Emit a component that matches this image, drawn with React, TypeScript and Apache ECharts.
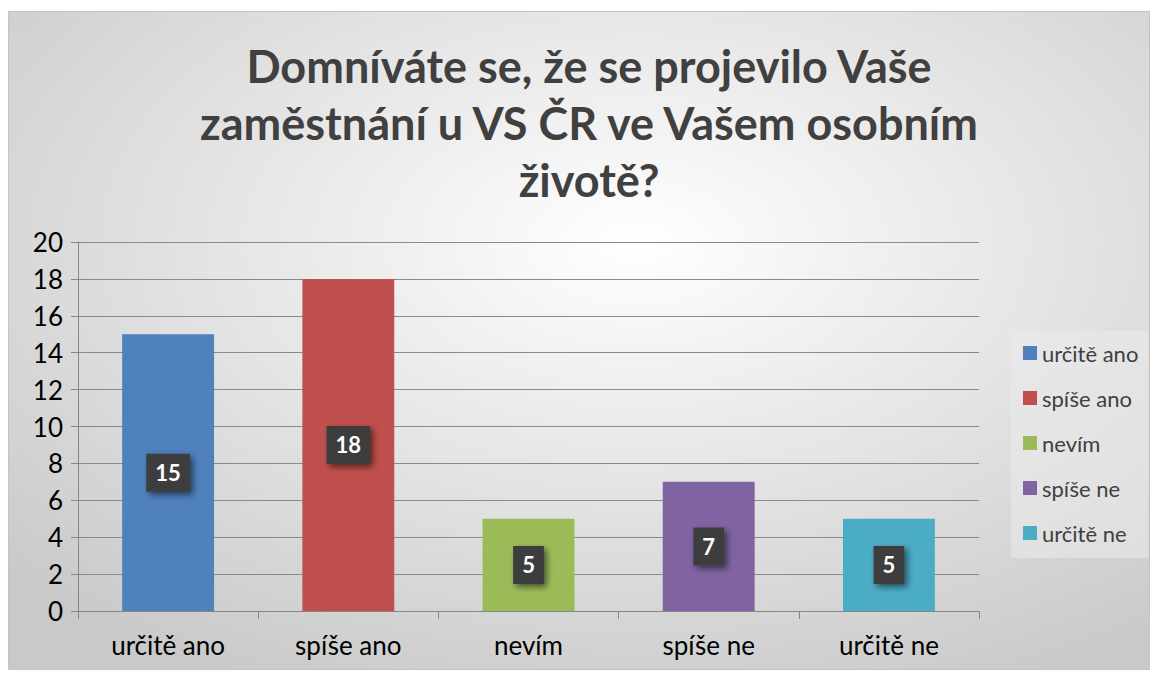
import React, { useEffect, useRef } from "react";
import * as echarts from "echarts";

const categories = ["určitě ano", "spíše ano", "nevím", "spíše ne", "určitě ne"];
const values = [15, 18, 5, 7, 5];
const colors = ["#4f81bd", "#c0504d", "#9bbb59", "#8064a2", "#4bacc6"];
const yTicks = { min: 0, max: 20, interval: 2 };
const titleText = "Domníváte se, že se projevilo Vaše\nzaměstnání u VS ČR ve Vašem osobním\nživotě?";

export default function App() {
  const ref = useRef<HTMLDivElement>(null);
  useEffect(() => {
    if (!ref.current) return;
    const chart = echarts.init(ref.current, null, { renderer: "svg" });
    const series = categories.map((name, i) => ({
      name,
      type: "bar",
      stack: "all",
      barWidth: "51%",
      data: categories.map((_, j) => (j === i ? values[i] : "-")),
      itemStyle: { color: colors[i] },
      label: {
        show: true,
        position: "inside",
        formatter: "{c}",
        color: "#ffffff",
        fontFamily: "Lato",
        fontWeight: "bold",
        fontSize: 22,
        backgroundColor: "#3c3c3c",
        padding: [9, 9, 7, 9],
        shadowColor: "rgba(0,0,0,0.55)",
        shadowBlur: 6,
        shadowOffsetX: 3,
        shadowOffsetY: 3,
      },
    }));
    chart.setOption({
      animation: false,
      backgroundColor: new echarts.graphic.RadialGradient(0.55, 0.35, 0.75, [
        { offset: 0, color: "#ffffff" },
        { offset: 1, color: "#c9c9c9" },
      ]),
      textStyle: { fontFamily: "Lato" },
      title: {
        text: titleText,
        left: 580,
        textAlign: "center",
        top: 25,
        padding: 0,
        textStyle: {
          fontFamily: "Lato",
          fontWeight: "bold",
          fontSize: 45,
          lineHeight: 57,
          color: "#404040",
        },
      },
      legend: {
        orient: "vertical",
        left: 1002,
        top: 319,
        icon: "rect",
        itemWidth: 14,
        itemHeight: 14,
        itemGap: 23,
        padding: [11, 10, 14, 12],
        backgroundColor: "rgba(235,235,235,0.55)",
        textStyle: { fontFamily: "Lato", fontSize: 22, color: "#404040" },
        data: categories,
      },
      grid: { left: 69, right: 170, top: 230, bottom: 58, containLabel: false },
      xAxis: {
        type: "category",
        data: categories,
        axisLine: { lineStyle: { color: "#868686", width: 1 } },
        axisTick: { show: true, alignWithLabel: false, length: 8, lineStyle: { color: "#868686" } },
        axisLabel: { color: "#000000", fontSize: 26, fontFamily: "Lato", margin: 21 },
      },
      yAxis: {
        type: "value",
        min: yTicks.min,
        max: yTicks.max,
        interval: yTicks.interval,
        axisLine: { show: true, lineStyle: { color: "#868686", width: 1 } },
        axisTick: { show: true, length: 7, lineStyle: { color: "#868686" } },
        axisLabel: { color: "#000000", fontSize: 26, fontFamily: "Lato", margin: 15 },
        splitLine: { lineStyle: { color: "#8a8a8a", width: 1 } },
      },
      series,
    });
    return () => chart.dispose();
  }, []);
  return (
    <div
      ref={ref}
      style={{
        position: "absolute",
        left: 8,
        top: 11,
        width: 1142,
        height: 659,
        border: "1px solid #c4c4c4",
        boxSizing: "border-box",
      }}
    />
  );
}
